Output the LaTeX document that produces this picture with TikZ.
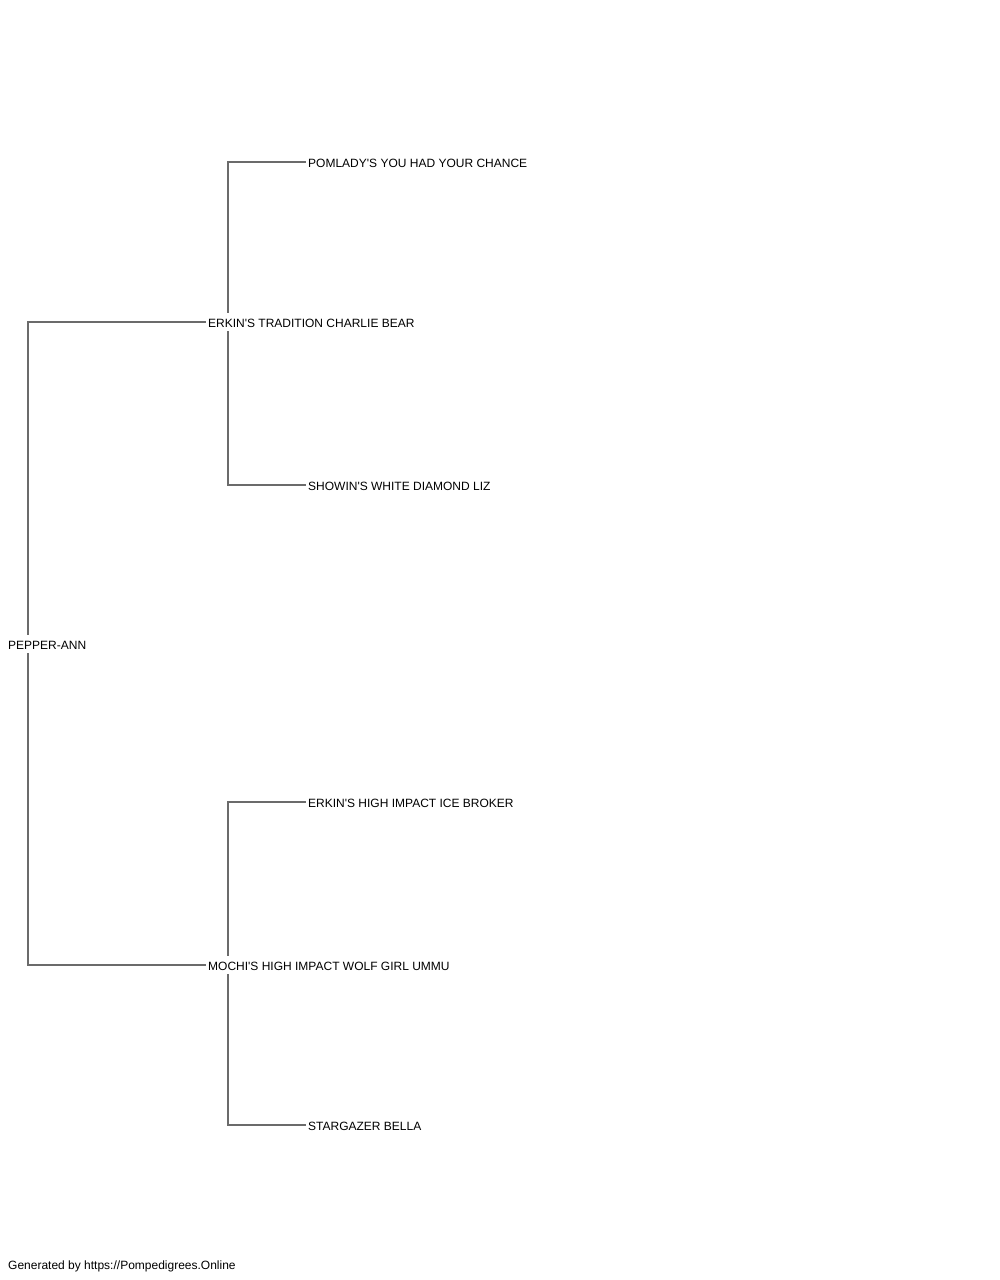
\documentclass[tikz,border=0pt]{standalone}
\usepackage{fontspec}
\setmainfont{Liberation Sans}
\begin{document}
\begin{tikzpicture}[x=1pt,y=-1pt,font=\fontsize{12}{14}\selectfont,
  dog/.style={anchor=west,inner xsep=2pt,inner ysep=0pt,minimum height=18pt,text height=10.5pt,text depth=0pt},
  link/.style={draw=black!58,line width=1.2pt}]
\useasboundingbox (0,0) rectangle (1000,1280);
\node[dog] (pep) at (6,644) {PEPPER-ANN};
\node[dog] (sire) at (206,322) {ERKIN\textquotesingle S TRADITION CHARLIE BEAR};
\node[dog] (dam) at (206,965) {MOCHI\textquotesingle S HIGH IMPACT WOLF GIRL UMMU};
\node[dog] (ss) at (306,162) {POMLADY\textquotesingle S YOU HAD YOUR CHANCE};
\node[dog] (sd) at (306,485) {SHOWIN\textquotesingle S WHITE DIAMOND LIZ};
\node[dog] (ds) at (306,802) {ERKIN\textquotesingle S HIGH IMPACT ICE BROKER};
\node[dog] (dd) at (306,1125) {STARGAZER BELLA};
\draw[link] ([xshift=22pt]pep.north west) |- (sire.west);
\draw[link] ([xshift=22pt]pep.south west) |- (dam.west);
\draw[link] ([xshift=22pt]sire.north west) |- (ss.west);
\draw[link] ([xshift=22pt]sire.south west) |- (sd.west);
\draw[link] ([xshift=22pt]dam.north west) |- (ds.west);
\draw[link] ([xshift=22pt]dam.south west) |- (dd.west);
\node[dog] (credit) at (6,1264) {Generated by https://Pompedigrees.Online};
\end{tikzpicture}
\end{document}
